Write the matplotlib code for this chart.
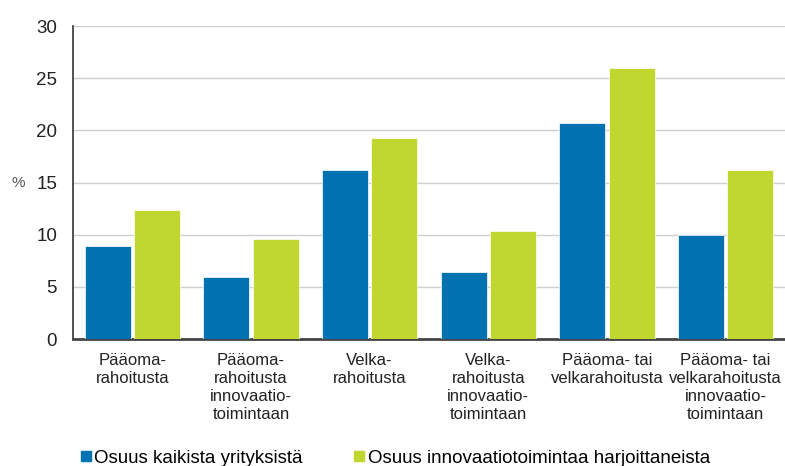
import matplotlib
matplotlib.use("Agg")
import matplotlib.pyplot as plt
import numpy as np
from matplotlib.lines import Line2D

categories = ["Pääoma-\nrahoitusta",
              "Pääoma-\nrahoitusta\ninnovaatio-\ntoimintaan",
              "Velka-\nrahoitusta",
              "Velka-\nrahoitusta\ninnovaatio-\ntoimintaan",
              "Pääoma- tai\nvelkarahoitusta",
              "Pääoma- tai\nvelkarahoitusta\ninnovaatio-\ntoimintaan"]
series_names = ["Osuus kaikista yrityksistä", "Osuus innovaatiotoimintaa harjoittaneista"]
all_firms = [8.9, 5.9, 16.2, 6.4, 20.7, 10.0]
innovating = [12.4, 9.6, 19.3, 10.4, 26.0, 16.2]
yticks = [0, 5, 10, 15, 20, 25, 30]

plt.rcParams['font.family'] = ["Liberation Sans", "DejaVu Sans"]

blue = "#0072B1"
green = "#C0D72F"

fig = plt.figure(figsize=(7.85, 4.66), dpi=100)
ax = fig.add_axes([0.093, 0.2725, 0.907, 0.6715])

x = np.arange(len(categories))
w = 0.39
gap = 0.013
ax.bar(x - w/2 - gap, all_firms, width=w, color=blue, edgecolor="white", linewidth=0.5, zorder=3)
ax.bar(x + w/2 + gap, innovating, width=w, color=green, edgecolor="white", linewidth=0.5, zorder=3)

ax.set_xlim(-0.5, len(categories) - 0.5)
ax.set_ylim(0, 30)
ax.set_yticks(yticks)
ax.set_yticklabels([str(t) for t in yticks], fontsize=13.5, color="#222222")
ax.yaxis.grid(True, color="#cfcfcf", linewidth=1.0, zorder=0)
ax.set_axisbelow(True)
ax.tick_params(axis='y', length=0, pad=11.5)
ax.tick_params(axis='x', length=0, pad=10)
ax.set_xticks(x)
ax.set_xticklabels(categories, fontsize=12, color="#222222", linespacing=1.25, va="top")

for s in ["top", "right"]:
    ax.spines[s].set_visible(False)
ax.spines["left"].set_color("#333333")
ax.spines["left"].set_linewidth(1.2)
ax.spines["bottom"].set_color("#444444")
ax.spines["bottom"].set_linewidth(2)

fig.text(12/785, 1 - 183/466, "%", fontsize=11, color="#555555", va="center", ha="left")

handles = [Line2D([], [], marker="s", linestyle="none", markersize=7, color=blue),
           Line2D([], [], marker="s", linestyle="none", markersize=7, color=green)]
fig.legend(handles, series_names, loc="center left", bbox_to_anchor=(0.1, 1 - 458/466),
           ncol=2, frameon=False, handletextpad=0.05, columnspacing=2.6, handlelength=0.8,
           borderaxespad=0, borderpad=0, prop={"size": 13.5})

fig.savefig("out.png", dpi=100)
